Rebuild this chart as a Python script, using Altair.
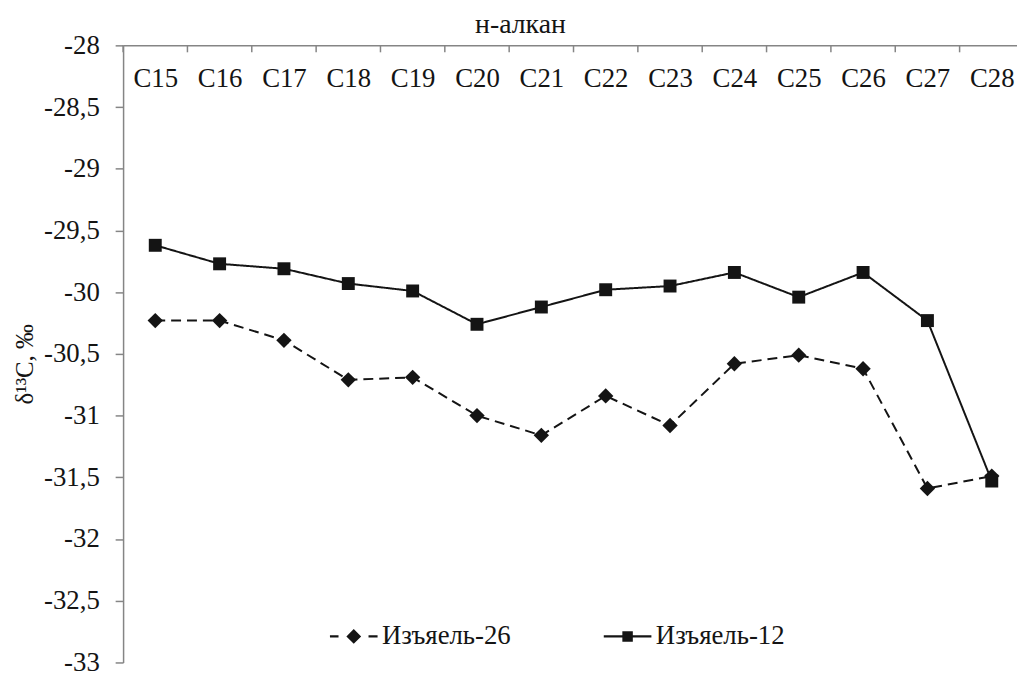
import altair as alt
import pandas as pd

categories = ["C15", "C16", "C17", "C18", "C19", "C20", "C21",
              "C22", "C23", "C24", "C25", "C26", "C27", "C28"]
izyayel_26 = [-30.23, -30.23, -30.39, -30.71, -30.69, -31.00, -31.16,
              -30.84, -31.08, -30.58, -30.51, -30.62, -31.59, -31.49]
izyayel_12 = [-29.62, -29.77, -29.81, -29.93, -29.99, -30.26, -30.12,
              -29.98, -29.95, -29.84, -30.04, -29.84, -30.23, -31.53]
series_names = ["Изъяель-26", "Изъяель-12"]
y_ticks = [-28, -28.5, -29, -29.5, -30, -30.5, -31, -31.5, -32, -32.5, -33]

rows = []
for name, vals in zip(series_names, [izyayel_26, izyayel_12]):
    for c, v in zip(categories, vals):
        rows.append({"alkane": c, "d13C": v, "series": name})
df = pd.DataFrame(rows)
cat_df = pd.DataFrame({"alkane": categories})

FONT = "Liberation Serif"
INK = "#141414"
AXIS_GREY = "#858585"
STEP = 908 / 14

x_scale = alt.Scale(type="point", domain=categories, range=[0, 908], padding=0.5)

x_enc = alt.X(
    "alkane:N",
    sort=categories,
    scale=x_scale,
    axis=alt.Axis(
        orient="top",
        title="н-алкан",
        titleFont=FONT, titleFontSize=28,
        titleX=400, titleY=-13, titleAlign="center", titleBaseline="alphabetic",
        labelFont=FONT, labelFontSize=27,
        labelAngle=0, labelPadding=-41, labelBaseline="alphabetic",
        tickSize=0,
    ),
)
y_enc = alt.Y(
    "d13C:Q",
    scale=alt.Scale(domain=[-33, -28], nice=False, zero=False),
    axis=alt.Axis(
        values=y_ticks,
        labelExpr="replace(toString(datum.value), '.', ',')",
        title="δ¹³C, ‰",
        titleFont=FONT, titleFontSize=25,
        titleX=-91, titleY=321, titleAlign="center", titleBaseline="alphabetic", titleAngle=270,
        labelFont=FONT, labelFontSize=27,
        labelPadding=16, tickSize=8,
    ),
)

base = alt.Chart(df)

# inward-pointing category-boundary ticks along the top axis
top_ticks = alt.Chart(cat_df).mark_rule(color=AXIS_GREY, strokeWidth=1.5, xOffset=-STEP / 2).encode(
    x=x_enc,
    y=alt.value(0), y2=alt.value(7),
)

lines = base.mark_line(color=INK, strokeWidth=2).encode(
    x=x_enc, y=y_enc,
    detail="series:N",
    strokeDash=alt.StrokeDash("series:N", scale=alt.Scale(domain=series_names, range=[[10, 6], [1, 0]]), legend=None),
)

points = base.mark_point(filled=True, color=INK, opacity=1).encode(
    x=x_enc, y=y_enc,
    shape=alt.Shape("series:N", scale=alt.Scale(domain=series_names, range=["diamond", "square"]), legend=None),
    size=alt.Size("series:N", scale=alt.Scale(domain=series_names, range=[240, 170]), legend=None),
)

# legend glyphs: line pieces drawn as thin filled bars plus the marker
path26 = ("M-1,-0.045L-0.64,-0.045L-0.64,0.045L-1,0.045Z"
          "M-0.31,0L0,-0.31L0.31,0L0,0.31Z"
          "M0.62,-0.045L1,-0.045L1,0.045L0.62,0.045Z")
path12 = ("M-1,-0.045L1,-0.045L1,0.045L-1,0.045Z"
          "M-0.22,-0.22L0.22,-0.22L0.22,0.22L-0.22,0.22Z")

legend_layer = base.mark_point(filled=True, fill=INK, stroke=INK, strokeWidth=1, opacity=0).encode(
    x=x_enc, y=y_enc,
    shape=alt.Shape(
        "series:N",
        scale=alt.Scale(domain=series_names, range=[path26, path12]),
        legend=alt.Legend(
            title=None, orient="none", legendX=208, legendY=571, direction="horizontal",
            symbolSize=2304, symbolStrokeWidth=1, symbolFillColor=INK, symbolStrokeColor=INK,
            symbolOpacity=1, labelOffset=4, columnPadding=91, padding=0,
            labelFont=FONT, labelFontSize=27,
        ),
    ),
)

chart = alt.layer(top_ticks, lines, points, legend_layer).resolve_scale(shape="independent").properties(
    width=901, height=622,
    autosize=alt.AutoSizeParams(type="none"),
    padding={"left": 116, "top": 35, "right": 0, "bottom": 13},
    background="white",
).configure(
    font=FONT,
    style={"guide-label": {"font": FONT, "fontSize": 27, "fill": INK},
           "guide-title": {"font": FONT, "fill": INK}},
).configure_view(
    stroke=None
).configure_text(
    font=FONT
).configure_axis(
    labelFont=FONT, labelFontSize=27, labelColor=INK,
    titleFont=FONT, titleFontWeight="normal", titleColor=INK,
    domainColor=AXIS_GREY, domainWidth=1.5,
    tickColor=AXIS_GREY, tickWidth=1.5, grid=False,
).configure_legend(
    labelFont=FONT, labelFontSize=27, labelColor=INK, labelLimit=0,
)

chart.save("out.html", embed_options={"renderer": "svg", "actions": False})
